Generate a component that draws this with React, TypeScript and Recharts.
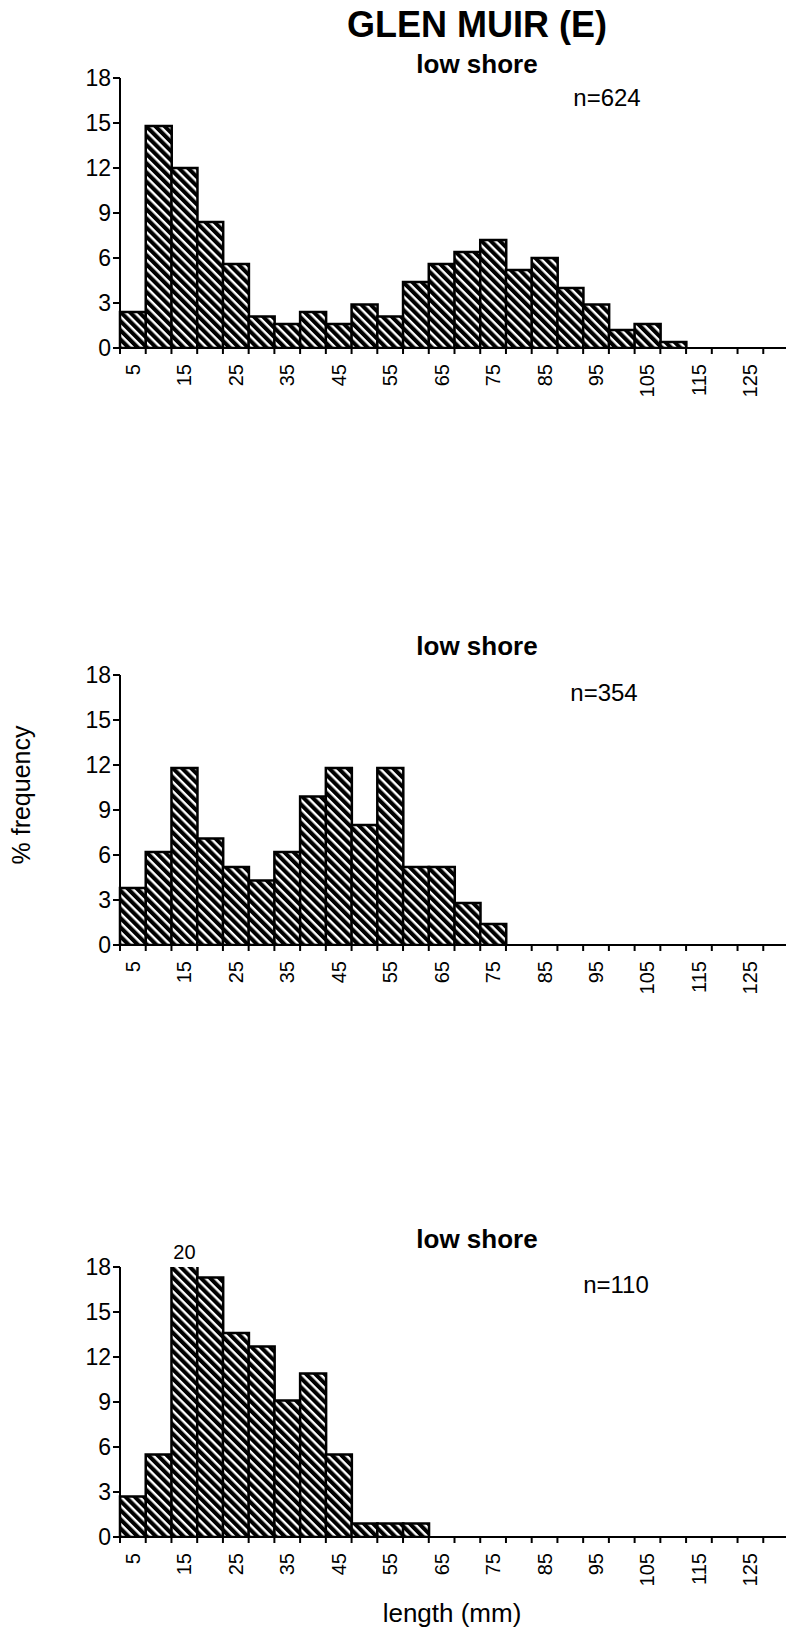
import React from 'react';
import { BarChart, Bar, XAxis, YAxis, LabelList } from 'recharts';

// ---- data ----
const LENGTHS = [5, 10, 15, 20, 25, 30, 35, 40, 45, 50, 55, 60, 65, 70, 75, 80, 85, 90, 95, 100, 105, 110, 115, 120, 125, 130];
const X_LABELS = ['5', '15', '25', '35', '45', '55', '65', '75', '85', '95', '105', '115', '125'];
const Y_TICKS = [0, 3, 6, 9, 12, 15, 18];
const Y_MAX = 18;

const PANEL1 = [2.4, 14.8, 12.0, 8.4, 5.6, 2.1, 1.6, 2.4, 1.6, 2.9, 2.1, 4.4, 5.6, 6.4, 7.2, 5.2, 6.0, 4.0, 2.9, 1.2, 1.6, 0.4, 0, 0, 0, 0];
const PANEL2 = [3.8, 6.2, 11.8, 7.1, 5.2, 4.3, 6.2, 9.9, 11.8, 8.0, 11.8, 5.2, 5.2, 2.8, 1.4, 0, 0, 0, 0, 0, 0, 0, 0, 0, 0, 0];
const PANEL3 = [2.7, 5.5, 20, 17.3, 13.6, 12.7, 9.1, 10.9, 5.5, 0.9, 0.9, 0.9, 0, 0, 0, 0, 0, 0, 0, 0, 0, 0, 0, 0, 0, 0];

const TITLE = 'GLEN MUIR (E)';
const SUBTITLES = ['low shore', 'low shore', 'low shore'];
const SAMPLE_SIZES = [624, 354, 110];
const Y_LABEL = '% frequency';
const X_LABEL = 'length (mm)';

// ---- layout ----
const FONT = "'Liberation Sans', Arial, Helvetica, sans-serif";
const PLOT_LEFT = 120;
const PLOT_W = 669;
const PLOT_H = 270;
const CHART_W = 800;
const MT = 40;
const XAXIS_H = 60;
const PANEL_TOPS = [78.3, 675, 1266.7];
const SUB_POS = [
  { sx: 477, sy: 73, nx: 607, ny: 106 },
  { sx: 477, sy: 655, nx: 604, ny: 701 },
  { sx: 477, sy: 1248, nx: 616, ny: 1293 },
];

const build = (vals: number[]) => LENGTHS.map((len, i) => ({ len, pct: vals[i] }));
const DATASETS = [build(PANEL1), build(PANEL2), build(PANEL3)];

function XTick(props: any) {
  const { x, y, payload } = props;
  const half = PLOT_W / LENGTHS.length / 2;
  const label = String(payload.value);
  const show = X_LABELS.includes(label);
  return (
    <g>
      <line x1={x - half} x2={x - half} y1={y - 6} y2={y} stroke="#000" strokeWidth={2} />
      {show && (
        <text
          transform={`translate(${x + 7},${y + 10}) rotate(-90)`}
          textAnchor="end"
          fontSize={20}
          fontFamily={FONT}
          fill="#000"
        >
          {label}
        </text>
      )}
    </g>
  );
}

function OverflowLabel(props: any) {
  const vb = props.viewBox || props;
  const x = vb.x ?? props.x;
  const y = vb.y ?? props.y;
  const width = vb.width ?? props.width;
  const height = vb.height ?? props.height;
  const value = Number(props.value);
  if (!(value > Y_MAX)) return null;
  const bottom = y + height;
  const top = bottom - height * (Y_MAX / value);
  return (
    <text x={x + width / 2} y={top - 8} textAnchor="middle" fontSize={20} fontFamily={FONT} fill="#000">
      {value}
    </text>
  );
}

function Panel({ data, top }: { data: any[]; top: number }) {
  return (
    <div style={{ position: 'absolute', left: 0, top: top - MT }}>
      <BarChart
        width={CHART_W}
        height={MT + PLOT_H + XAXIS_H}
        data={data}
        margin={{ top: MT, right: CHART_W - PLOT_LEFT - PLOT_W, bottom: 0, left: 0 }}
        barCategoryGap={0}
        barGap={0}
      >
        <XAxis
          dataKey="len"
          type="category"
          interval={0}
          height={XAXIS_H}
          tickSize={6}
          tickMargin={0}
          tickLine={false}
          axisLine={{ stroke: '#000', strokeWidth: 2 }}
          tick={<XTick />}
        />
        <YAxis
          width={PLOT_LEFT}
          type="number"
          domain={[0, Y_MAX]}
          ticks={Y_TICKS}
          allowDataOverflow
          interval={0}
          tickSize={7}
          tickMargin={2}
          axisLine={{ stroke: '#000', strokeWidth: 2 }}
          tickLine={{ stroke: '#000', strokeWidth: 2 }}
          tick={{ fill: '#000', fontSize: 23, fontFamily: FONT }}
        />
        <Bar dataKey="pct" fill="url(#hatch)" stroke="#000" strokeWidth={2.5} isAnimationActive={false}>
          <LabelList dataKey="pct" content={<OverflowLabel />} />
        </Bar>
      </BarChart>
    </div>
  );
}

export default function App() {
  return (
    <div style={{ position: 'absolute', left: 0, top: 0, width: 786, height: 1631, overflow: 'hidden', background: '#fff' }}>
      <svg width={0} height={0} style={{ position: 'absolute' }}>
        <defs>
          <pattern id="hatch" patternUnits="userSpaceOnUse" width={6.5} height={6.5} patternTransform="rotate(45)">
            <rect x={0} y={0} width={6.5} height={6.5} fill="#000" />
            <rect x={0} y={0} width={6.5} height={2.4} fill="#fff" />
          </pattern>
        </defs>
      </svg>
      {DATASETS.map((d, i) => (
        <Panel key={i} data={d} top={PANEL_TOPS[i]} />
      ))}
      <svg width={786} height={1631} style={{ position: 'absolute', left: 0, top: 0, pointerEvents: 'none' }}>
        <text x={477} y={37} textAnchor="middle" fontSize={36} fontWeight="bold" fontFamily={FONT} fill="#000">
          {TITLE}
        </text>
        {SUB_POS.map((p, i) => (
          <g key={i}>
            <text x={p.sx} y={p.sy} textAnchor="middle" fontSize={26} fontWeight="bold" fontFamily={FONT} fill="#000">
              {SUBTITLES[i]}
            </text>
            <text x={p.nx} y={p.ny} textAnchor="middle" fontSize={24} fontFamily={FONT} fill="#000">
              {`n=${SAMPLE_SIZES[i]}`}
            </text>
          </g>
        ))}
        <text
          transform="translate(30,795) rotate(-90)"
          textAnchor="middle"
          fontSize={25}
          fontFamily={FONT}
          fill="#000"
        >
          {Y_LABEL}
        </text>
        <text x={452} y={1622} textAnchor="middle" fontSize={26} fontFamily={FONT} fill="#000">
          {X_LABEL}
        </text>
      </svg>
    </div>
  );
}
